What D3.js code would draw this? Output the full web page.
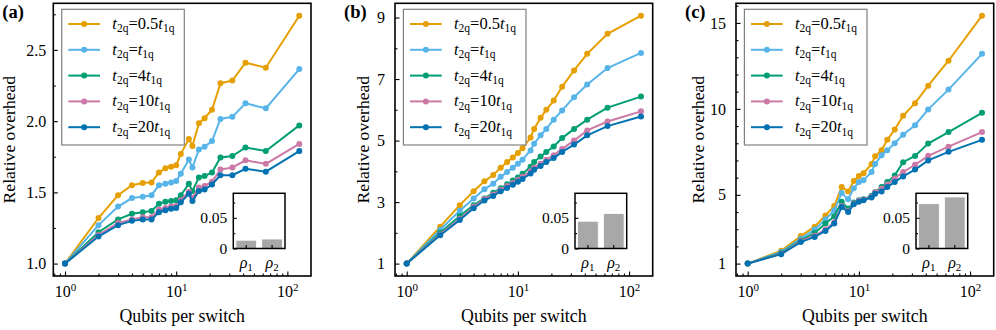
<!DOCTYPE html>
<html>
<head>
<meta charset="utf-8">
<script src="https://cdn.jsdelivr.net/npm/d3@7"></script>
<style>
  body { margin: 0; background: #fff; }
  svg { display: block; }
  svg text { font-family: "Liberation Serif", "DejaVu Serif", "Times New Roman", serif; }
</style>
</head>
<body>
<script>
'use strict';

// ---- data ----
var qubits = [1, 2, 3, 4, 5, 6, 7, 8, 9, 10, 11, 13, 14, 16, 18, 21, 25, 32, 42, 64, 128];
var ratioLabels = ['0.5', '', '4', '10', '20'];   // t2q = ratio * t1q
var rhoLabels = ['1', '2'];

// panel (a)
var aHalf = [1.00, 1.32, 1.48, 1.55, 1.565, 1.57, 1.64, 1.67, 1.68, 1.69, 1.77, 1.875, 1.825, 1.985, 2.02, 2.08, 2.265, 2.285, 2.41, 2.375, 2.74];
var aOne = [1.00, 1.27, 1.40, 1.46, 1.47, 1.48, 1.55, 1.56, 1.57, 1.58, 1.63, 1.73, 1.675, 1.80, 1.82, 1.86, 2.015, 2.03, 2.125, 2.09, 2.365];
var aFour = [1.00, 1.22, 1.31, 1.35, 1.36, 1.37, 1.42, 1.435, 1.44, 1.445, 1.48, 1.56, 1.51, 1.605, 1.615, 1.64, 1.745, 1.755, 1.815, 1.79, 1.97];
var aTen = [1.00, 1.20, 1.285, 1.31, 1.325, 1.325, 1.38, 1.39, 1.40, 1.405, 1.445, 1.505, 1.46, 1.535, 1.545, 1.575, 1.66, 1.675, 1.725, 1.70, 1.84];
var aTwenty = [1.00, 1.19, 1.27, 1.30, 1.31, 1.31, 1.36, 1.375, 1.385, 1.39, 1.43, 1.49, 1.44, 1.51, 1.52, 1.555, 1.62, 1.62, 1.665, 1.645, 1.79];
var rhoA = [0.0135, 0.0155];

// panel (b)
var bHalf = [1.0, 2.2, 2.9, 3.35, 3.68, 3.88, 4.12, 4.3, 4.45, 4.6, 4.75, 5.1, 5.38, 5.74, 6.0, 6.3, 6.75, 7.28, 7.82, 8.47, 9.06];
var bOne = [1.0, 2.1, 2.72, 3.12, 3.42, 3.6, 3.82, 3.98, 4.12, 4.25, 4.38, 4.68, 4.9, 5.17, 5.38, 5.68, 5.98, 6.41, 6.82, 7.36, 7.85];
var bFour = [1.0, 2.0, 2.55, 2.9, 3.12, 3.3, 3.45, 3.58, 3.7, 3.8, 3.92, 4.15, 4.3, 4.48, 4.63, 4.81, 5.08, 5.38, 5.68, 6.07, 6.43];
var bTen = [1.0, 1.95, 2.45, 2.85, 3.1, 3.25, 3.4, 3.52, 3.62, 3.72, 3.82, 4.0, 4.12, 4.25, 4.38, 4.52, 4.73, 5.0, 5.33, 5.62, 5.95];
var bTwenty = [1.0, 1.92, 2.42, 2.8, 3.05, 3.2, 3.35, 3.46, 3.56, 3.66, 3.75, 3.93, 4.05, 4.17, 4.3, 4.43, 4.63, 4.87, 5.17, 5.47, 5.78];
var rhoB = [0.0445, 0.057];

// panel (c)
var cHalf = [1.0, 1.75, 2.6, 3.15, 3.8, 4.35, 5.45, 5.2, 5.8, 6.1, 6.25, 6.8, 7.25, 7.6, 8.2, 8.8, 9.6, 10.33, 11.35, 12.8, 15.42];
var cOne = [1.0, 1.68, 2.45, 2.98, 3.56, 4.1, 5.1, 4.75, 5.38, 5.74, 5.85, 6.33, 6.8, 7.3, 7.6, 8.0, 8.5, 9.05, 9.97, 11.12, 13.2];
var cFour = [1.0, 1.62, 2.35, 2.78, 3.33, 3.75, 4.6, 4.2, 4.55, 4.68, 4.75, 4.95, 5.15, 5.45, 5.75, 6.13, 6.9, 7.26, 7.98, 8.65, 9.77];
var cTen = [1.0, 1.57, 2.3, 2.62, 2.98, 3.4, 4.35, 4.05, 4.5, 4.65, 4.72, 4.9, 5.15, 5.35, 5.6, 5.95, 6.33, 6.75, 7.27, 7.8, 8.65];
var cTwenty = [1.0, 1.55, 2.25, 2.55, 2.9, 3.33, 4.29, 4.0, 4.45, 4.6, 4.68, 4.85, 5.07, 5.2, 5.45, 5.75, 6.07, 6.47, 7.0, 7.5, 8.2];
var rhoC = [0.073, 0.084];

var yTicksA = [1.0, 1.5, 2.0, 2.5], yMinorA = [1.25, 1.75, 2.25, 2.75];
var yTicksB = [1, 3, 5, 7, 9], yMinorB = [2, 4, 6, 8];
var yTicksC = [1, 5, 10, 15], yMinorC = [2, 3, 4, 6, 7, 8, 9, 11, 12, 13, 14, 16];
var insetTicks = [0, 0.05], insetMinor = [0.025, 0.075];

// ---- style ----
var colors = ['#E69F00', '#56B4E9', '#009E73', '#CC79A7', '#0072B2'];
var plotTop = 3.3, plotW = 257.7, plotH = 272.7;

var panels = [
  {tag: '(a)', left: 53.3, series: [aHalf, aOne, aFour, aTen, aTwenty], rho: rhoA,
   ticks: yTicksA, minor: yMinorA, fmt: d3.format('.1f'), pad: 7, ylab: -38.3},
  {tag: '(b)', left: 395, series: [bHalf, bOne, bFour, bTen, bTwenty], rho: rhoB,
   ticks: yTicksB, minor: yMinorB, fmt: d3.format('d'), pad: 10, ylab: -25.7},
  {tag: '(c)', left: 736, series: [cHalf, cOne, cFour, cTen, cTwenty], rho: rhoC,
   ticks: yTicksC, minor: yMinorC, fmt: d3.format('d'), pad: 10, ylab: -31.7}
];

var svg = d3.select('body').append('svg')
  .attr('width', 996).attr('height', 330);

function styleAxis(g, size) {
  g.attr('font-family', null);
  g.select('.domain').remove();
  g.selectAll('.tick line').attr('stroke', '#000').attr('stroke-width', 1.1);
  g.selectAll('.tick text').attr('fill', '#000').attr('font-size', size);
}

function legendText(sel, ratio) {
  sel.append('tspan').attr('font-style', 'italic').text('t');
  sel.append('tspan').attr('font-size', 11.5).attr('dy', 3.5).text('2q');
  sel.append('tspan').attr('dy', -3.5).text('=' + ratio);
  sel.append('tspan').attr('font-style', 'italic').text('t');
  sel.append('tspan').attr('font-size', 11.5).attr('dy', 3.5).text('1q');
}

function drawPanel(p) {
  var g = svg.append('g').attr('transform', 'translate(' + p.left + ',' + plotTop + ')');

  // matplotlib-like 5% margins
  var ext = d3.extent(d3.merge(p.series));
  var yPad = (ext[1] - ext[0]) * 0.05;
  var y = d3.scaleLinear().domain([ext[0] - yPad, ext[1] + yPad]).range([plotH, 0]);
  var lx = d3.extent(qubits).map(Math.log10);
  var xPad = (lx[1] - lx[0]) * 0.05;
  var x = d3.scaleLog().domain([Math.pow(10, lx[0] - xPad), Math.pow(10, lx[1] + xPad)]).range([0, plotW]);

  // x axis (inward ticks)
  var xMinor = [];
  [0.1, 1, 10, 100].forEach(function(dec) {
    for (var k = 2; k <= 9; k++) {
      var v = k * dec;
      if (v >= x.domain()[0] && v <= x.domain()[1]) xMinor.push(v);
    }
  });
  g.append('g').attr('transform', 'translate(0,' + plotH + ')')
    .call(d3.axisBottom(x).tickValues(xMinor).tickSize(-2.5).tickFormat(''))
    .call(styleAxis, 16);
  var xAx = g.append('g').attr('transform', 'translate(0,' + plotH + ')')
    .call(d3.axisBottom(x).tickValues([1, 10, 100]).tickSize(-4.5).tickPadding(10))
    .call(styleAxis, 16);
  xAx.selectAll('.tick text').each(function(d) {
    var t = d3.select(this);
    t.text('');
    t.append('tspan').text('10');
    t.append('tspan').attr('font-size', 11).attr('dy', -6.5).text(Math.round(Math.log10(d)));
  });

  // y axis
  g.append('g').call(d3.axisLeft(y).tickValues(p.minor).tickSize(-2.5).tickFormat(''))
    .call(styleAxis, 16);
  g.append('g').call(d3.axisLeft(y).tickValues(p.ticks).tickSize(-4.5).tickPadding(p.pad).tickFormat(p.fmt))
    .call(styleAxis, 16);

  // series
  var line = d3.line().x(function(d) { return x(d[0]); }).y(function(d) { return y(d[1]); });
  p.series.forEach(function(vals, i) {
    var pts = qubits.map(function(q, j) { return [q, vals[j]]; });
    g.append('path').datum(pts)
      .attr('d', line).attr('fill', 'none')
      .attr('stroke', colors[i]).attr('stroke-width', 2);
    g.append('g').selectAll('circle').data(pts).join('circle')
      .attr('cx', function(d) { return x(d[0]); })
      .attr('cy', function(d) { return y(d[1]); })
      .attr('r', 3).attr('fill', colors[i]);
  });

  // frame
  g.append('rect').attr('width', plotW).attr('height', plotH)
    .attr('fill', 'none').attr('stroke', '#000').attr('stroke-width', 1.6);

  // legend
  var lg = g.append('g').attr('transform', 'translate(8.4,6)');
  lg.append('rect').attr('width', 122.6).attr('height', 135.7)
    .attr('fill', '#fff').attr('stroke', '#808080').attr('stroke-width', 1.2);
  ratioLabels.forEach(function(r, i) {
    var cy = 14.7 + i * 25.8;
    lg.append('line').attr('x1', 6.6).attr('x2', 38.3).attr('y1', cy).attr('y2', cy)
      .attr('stroke', colors[i]).attr('stroke-width', 2);
    lg.append('circle').attr('cx', 22.5).attr('cy', cy).attr('r', 3).attr('fill', colors[i]);
    lg.append('text').attr('x', 50.6).attr('y', cy + 5).attr('font-size', 16.5).attr('fill', '#000')
      .call(legendText, r);
  });

  // inset bar chart
  var iw = 51.7, ih = 55.2;
  var ig = g.append('g').attr('transform', 'translate(180,190)');
  var bx = d3.scaleBand().domain(rhoLabels).range([0, iw]).paddingInner(0.2).paddingOuter(0.1);
  var by = d3.scaleLinear().domain([0, 0.09]).range([ih, 0]);
  ig.append('rect').attr('width', iw).attr('height', ih).attr('fill', '#fff');
  ig.selectAll('rect.bar').data(p.rho).join('rect').attr('class', 'bar')
    .attr('x', function(d, i) { return bx(rhoLabels[i]); })
    .attr('y', function(d) { return by(d); })
    .attr('width', bx.bandwidth())
    .attr('height', function(d) { return ih - by(d); })
    .attr('fill', '#a8a8a8').attr('stroke', '#fff').attr('stroke-width', 0.8);
  ig.append('g').call(d3.axisLeft(by).tickValues(insetMinor).tickSize(-2).tickFormat(''))
    .call(styleAxis, 15.5);
  ig.append('g').call(d3.axisLeft(by).tickValues(insetTicks).tickSize(-3.5).tickPadding(6)
      .tickFormat(function(d) { return d === 0 ? '0' : d3.format('.2f')(d); }))
    .call(styleAxis, 15.5);
  var ix = ig.append('g').attr('transform', 'translate(0,' + ih + ')')
    .call(d3.axisBottom(bx).tickSize(-3.5).tickPadding(8))
    .call(styleAxis, 16);
  ix.selectAll('.tick text').each(function(d) {
    var t = d3.select(this);
    t.text('');
    t.append('tspan').attr('font-style', 'italic').text('ρ');
    t.append('tspan').attr('font-size', 11).attr('dy', 3).text(d);
  });
  ig.append('rect').attr('width', iw).attr('height', ih)
    .attr('fill', 'none').attr('stroke', '#000').attr('stroke-width', 1.5);

  // labels
  g.append('text').attr('transform', 'translate(' + p.ylab + ',' + (plotH / 2) + ') rotate(-90)')
    .attr('text-anchor', 'middle').attr('font-size', 17.6).text('Relative overhead');
  g.append('text').attr('x', plotW / 2).attr('y', 318.7)
    .attr('text-anchor', 'middle').attr('font-size', 17.8).text('Qubits per switch');
  g.append('text').attr('x', -51).attr('y', 14.5).attr('font-size', 18.5).attr('font-weight', 'bold')
    .text(p.tag);
}

panels.forEach(drawPanel);
</script>
</body>
</html>
